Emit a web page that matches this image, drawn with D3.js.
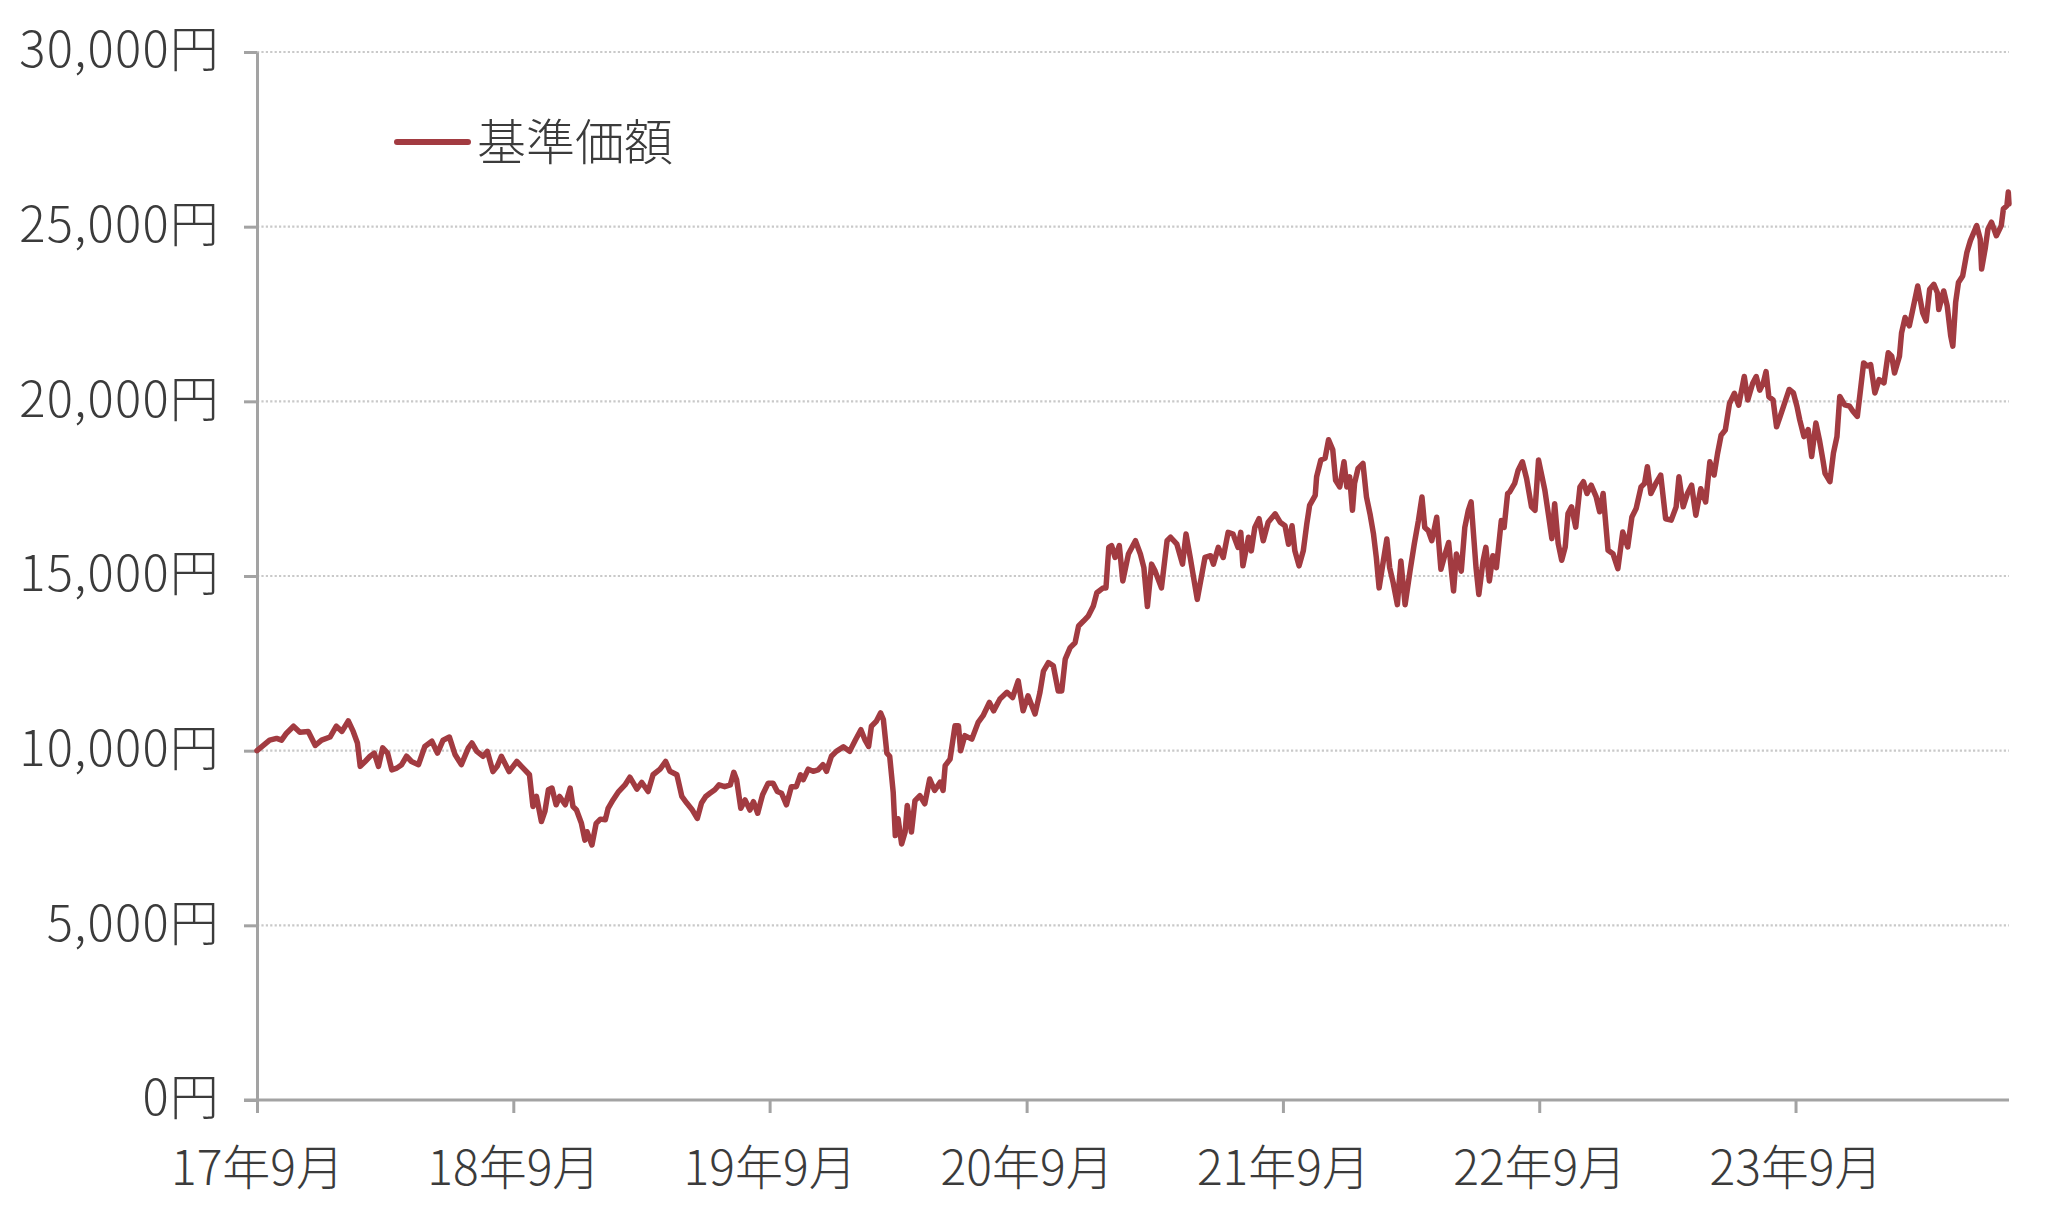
<!DOCTYPE html>
<html><head><meta charset="utf-8">
<script src="https://cdn.jsdelivr.net/npm/d3@7"></script>
<style>html,body{margin:0;padding:0;background:#fff;}svg{display:block}</style>
</head><body>
<svg id="chart" width="2048" height="1220"></svg>
<script>
const seriesName = "基準価額";
const dates = [
"2017-09-29","2017-10-08","2017-10-17","2017-10-27","2017-11-03","2017-11-10","2017-11-20","2017-11-29","2017-12-11","2017-12-21","2017-12-30",
"2018-01-11","2018-01-20","2018-01-28","2018-02-06","2018-02-13","2018-02-19","2018-02-23","2018-03-02","2018-03-09","2018-03-15","2018-03-21","2018-03-27",
"2018-04-03","2018-04-09","2018-04-16","2018-04-23","2018-04-30","2018-05-07","2018-05-17","2018-05-26","2018-06-05","2018-06-13","2018-06-21","2018-06-30",
"2018-07-08","2018-07-17","2018-07-27","2018-08-01","2018-08-08","2018-08-17","2018-08-23","2018-08-31","2018-09-06","2018-09-12","2018-09-23",
"2018-10-04","2018-10-13","2018-10-22","2018-10-27","2018-11-01","2018-11-08","2018-11-13","2018-11-18","2018-11-23","2018-11-29","2018-12-04","2018-12-12","2018-12-19",
"2018-12-23","2018-12-28","2019-01-04","2019-01-09","2019-01-12","2019-01-19","2019-01-25","2019-01-31","2019-02-07","2019-02-11","2019-02-18","2019-02-26",
"2019-03-07","2019-03-14","2019-03-24","2019-03-31","2019-04-09","2019-04-16","2019-04-26","2019-05-04","2019-05-10","2019-05-20","2019-05-27",
"2019-06-03","2019-06-11","2019-06-18","2019-06-24","2019-06-30","2019-07-06","2019-07-13","2019-07-19","2019-07-27","2019-08-04","2019-08-09","2019-08-13","2019-08-19","2019-08-25",
"2019-09-01","2019-09-06","2019-09-12","2019-09-19","2019-09-27","2019-10-04","2019-10-10","2019-10-16","2019-10-23","2019-10-30","2019-11-06","2019-11-12","2019-11-16","2019-11-23","2019-11-30",
"2019-12-07","2019-12-14","2019-12-19","2019-12-26","2020-01-02","2020-01-12","2020-01-21","2020-01-29","2020-02-06","2020-02-12","2020-02-17","2020-02-21","2020-02-28",
"2020-03-05","2020-03-09","2020-03-14","2020-03-18","2020-03-23","2020-03-26","2020-03-30","2020-04-04","2020-04-09","2020-04-12","2020-04-18","2020-04-23","2020-04-30",
"2020-05-07","2020-05-14","2020-05-21","2020-05-29","2020-06-02","2020-06-05","2020-06-12","2020-06-19","2020-06-24","2020-06-27","2020-07-03","2020-07-13","2020-07-22","2020-07-29",
"2020-08-07","2020-08-13","2020-08-22","2020-09-01","2020-09-09","2020-09-17","2020-09-24","2020-10-01","2020-10-11","2020-10-18","2020-10-23","2020-10-30",
"2020-11-06","2020-11-13","2020-11-18","2020-11-23","2020-11-30","2020-12-07","2020-12-12","2020-12-19","2020-12-26","2021-01-02","2021-01-07","2021-01-16","2021-01-20","2021-01-24","2021-01-28",
"2021-02-02","2021-02-08","2021-02-13","2021-02-21","2021-03-03","2021-03-10","2021-03-15","2021-03-20","2021-03-26","2021-03-31","2021-04-09","2021-04-17","2021-04-22",
"2021-05-01","2021-05-09","2021-05-14","2021-05-20","2021-05-30","2021-06-10","2021-06-18","2021-06-22","2021-06-29","2021-07-06","2021-07-13","2021-07-20","2021-07-27","2021-07-31",
"2021-08-03","2021-08-11","2021-08-15","2021-08-20","2021-08-26","2021-09-01","2021-09-08","2021-09-18","2021-09-25","2021-10-02","2021-10-07","2021-10-12","2021-10-16","2021-10-22","2021-10-28",
"2021-11-02","2021-11-06","2021-11-14","2021-11-16","2021-11-22","2021-11-28","2021-12-03","2021-12-09","2021-12-13","2021-12-19","2021-12-25","2021-12-29",
"2022-01-02","2022-01-06","2022-01-09","2022-01-14","2022-01-21","2022-01-26","2022-01-31","2022-02-05","2022-02-09","2022-02-13","2022-02-19","2022-02-24","2022-02-28",
"2022-03-05","2022-03-11","2022-03-16","2022-03-22","2022-03-29","2022-04-04","2022-04-10","2022-04-15","2022-04-19","2022-04-24","2022-04-29",
"2022-05-06","2022-05-12","2022-05-18","2022-05-23","2022-05-27","2022-05-30","2022-06-03","2022-06-10","2022-06-15","2022-06-20","2022-06-24",
"2022-07-01","2022-07-05","2022-07-11","2022-07-15","2022-07-20","2022-07-25","2022-07-30","2022-08-06","2022-08-10","2022-08-15","2022-08-18","2022-08-25","2022-08-30",
"2022-09-05","2022-09-11","2022-09-18","2022-09-23","2022-09-28","2022-10-01","2022-10-07","2022-10-14","2022-10-17","2022-10-21","2022-10-26","2022-10-31",
"2022-11-05","2022-11-09","2022-11-14","2022-11-20","2022-11-26","2022-12-01","2022-12-06","2022-12-12","2022-12-19","2022-12-24","2022-12-29",
"2023-01-05","2023-01-12","2023-01-19","2023-01-26","2023-02-02","2023-02-08","2023-02-14","2023-02-21","2023-02-26","2023-03-02","2023-03-07","2023-03-14","2023-03-21","2023-03-28",
"2023-04-05","2023-04-12","2023-04-16","2023-04-22","2023-04-28","2023-05-04","2023-05-10","2023-05-17","2023-05-24","2023-05-30",
"2023-06-05","2023-06-10","2023-06-15","2023-06-21","2023-06-27","2023-07-04","2023-07-10","2023-07-18","2023-07-23","2023-07-30",
"2023-08-04","2023-08-09","2023-08-14","2023-08-18","2023-08-22","2023-08-28","2023-09-02","2023-09-07","2023-09-12","2023-09-20","2023-09-26",
"2023-10-01","2023-10-05","2023-10-11","2023-10-17","2023-10-22","2023-10-28","2023-11-02","2023-11-07","2023-11-10","2023-11-17","2023-11-22","2023-11-27",
"2023-12-01","2023-12-08","2023-12-15","2023-12-20","2023-12-26","2023-12-30","2024-01-04","2024-01-09","2024-01-14","2024-01-20","2024-01-26",
"2024-02-02","2024-02-08","2024-02-13","2024-02-17","2024-02-24","2024-02-27","2024-03-03","2024-03-09","2024-03-14","2024-03-21","2024-03-28",
"2024-04-02","2024-04-07","2024-04-13","2024-04-18","2024-04-20","2024-04-27","2024-05-02","2024-05-07","2024-05-10","2024-05-14","2024-05-18","2024-05-24","2024-05-30",
"2024-06-04","2024-06-13","2024-06-18","2024-06-20","2024-06-25","2024-06-29","2024-07-04","2024-07-11","2024-07-18","2024-07-21","2024-07-26","2024-07-28","2024-07-29"
];
const navValues = [
10000,10150,10300,10350,10300,10500,10700,10530,10550,10150,10300,
10390,10700,10550,10850,10550,10220,9550,9690,9840,9930,9550,10080,
9930,9450,9500,9600,9840,9690,9600,10120,10270,9930,10300,10390,
9890,9600,10080,10220,9980,9840,9980,9400,9550,9840,9400,
9690,9500,9310,8400,8690,7970,8260,8880,8930,8450,8690,8450,8930,
8400,8300,7920,7440,7680,7300,7920,8040,8020,8350,8590,8830,
9020,9240,8900,9090,8830,9310,9470,9690,9410,9310,8690,
8500,8300,8060,8500,8690,8780,8880,9020,8970,9020,9380,9170,8350,8590,
8300,8540,8210,8740,9070,9070,8830,8780,8450,8970,8970,9310,9170,9470,9410,
9450,9600,9410,9840,9980,10110,9980,10300,10600,10300,10120,10700,10840,
11080,10890,9930,9840,8810,7570,8050,7330,7670,8430,7670,8570,8710,
8480,9190,8860,9100,8860,9570,9760,10710,10710,10000,10430,10330,10810,11000,
11380,11140,11480,11670,11520,12000,11140,11570,11050,11670,12280,12520,
12430,11710,11710,12620,12950,13090,13570,13710,13860,14140,14520,14660,14660,15820,15870,
15530,15870,14860,15630,16010,15630,15240,14130,15340,15140,14660,16010,16110,
15910,15340,16200,15530,14330,15530,15580,15340,15820,15530,16250,16200,15820,16250,
15290,16110,15720,16390,16640,16010,16540,16780,16540,16440,15910,16440,15720,15290,15720,
16490,17020,17310,17840,18320,18370,18900,18610,17740,17550,18270,17550,
17840,16880,17650,18080,18220,17260,16780,16200,15530,14660,15430,16060,15240,
14810,14180,15430,14180,15140,15910,16590,17260,16390,16300,16010,
16680,15190,15630,15960,15140,14570,15630,15140,16390,16880,17120,
15240,14470,15430,15820,14860,15580,15240,16590,16390,17360,17410,17650,18030,
18270,17790,16980,16880,18320,18030,17460,16500,16070,17070,15930,15450,
15830,16790,16980,16400,17550,17700,17360,17600,17270,16840,17360,
15740,15640,15210,16260,15830,16690,16930,17550,17650,18130,17360,17650,17890,16640,
16600,16980,17840,16980,17360,17600,16740,17500,17120,18270,
17890,18510,19030,19180,19940,20230,19890,20710,20040,20520,
20710,20320,20520,20850,20130,20040,19270,19560,19860,20340,20240,
19860,19470,18990,19190,18420,19380,18900,18320,17940,17700,18520,18990,
20140,19900,19860,19710,19570,20240,21100,21010,21050,20240,20620,
20530,21390,21290,20810,21290,21960,22400,22160,22630,23300,22540,
22300,23210,23350,23110,22630,23160,22730,21870,21580,22830,23400,23590,24260,
24600,25030,24650,23790,24360,24930,25130,24740,25030,25510,25600,25990,25650
];
const yTicks = [0, 5000, 10000, 15000, 20000, 25000, 30000];
const yTickLabels = ["0円", "5,000円", "10,000円", "15,000円", "20,000円", "25,000円", "30,000円"];
const xTickDates = ["2017-09-29", "2018-09-29", "2019-09-29", "2020-09-29", "2021-09-29", "2022-09-29", "2023-09-29"];
const xTickLabels = ["17年9月", "18年9月", "19年9月", "20年9月", "21年9月", "22年9月", "23年9月"];

const parse = d3.timeParse("%Y-%m-%d");
const data = dates.map((d, i) => ({ date: parse(d), value: navValues[i] }));

const W = 2048, H = 1220;
const mLeft = 257, mRight = 2009, mTop = 52, mBottom = 1100;
const FONT = "'Noto Sans CJK JP', 'Liberation Sans', sans-serif";
const TEXT = "#3b3b3b";
const AXIS = "#a3a3a3";
const LINE = "#a23b41";

const svg = d3.select("#chart");
svg.append("rect").attr("width", W).attr("height", H).attr("fill", "#fff");

const x = d3.scaleTime().domain([parse(dates[0]), parse(dates[dates.length - 1])]).range([mLeft, mRight]);
const y = d3.scaleLinear().domain([0, 30000]).range([mBottom, mTop]);

// gridlines
svg.append("g").selectAll("line").data(yTicks.filter(v => v > 0)).join("line")
  .attr("x1", mLeft).attr("x2", mRight)
  .attr("y1", d => y(d)).attr("y2", d => y(d))
  .attr("stroke", "#c9c9c9").attr("stroke-width", 2.2).attr("stroke-dasharray", "2.2,2.2");

// y axis
const yAxis = d3.axisLeft(y).tickValues(yTicks).tickFormat((d, i) => yTickLabels[i])
  .tickSize(13).tickSizeOuter(0).tickPadding(24);
const gy = svg.append("g").attr("transform", `translate(${mLeft},0)`).call(yAxis);
gy.select(".domain").attr("stroke", AXIS).attr("stroke-width", 3);
gy.selectAll(".tick line").attr("stroke", AXIS).attr("stroke-width", 3);
gy.selectAll(".tick text").attr("fill", TEXT).attr("font-family", FONT).attr("font-weight", 300)
  .attr("font-size", 49).attr("letter-spacing", 1.2).attr("dy", "0.3em");

// x axis
const xAxis = d3.axisBottom(x).tickValues(xTickDates.map(parse)).tickFormat((d, i) => xTickLabels[i])
  .tickSize(13).tickSizeOuter(0).tickPadding(38);
const gx = svg.append("g").attr("transform", `translate(0,${mBottom})`).call(xAxis);
gx.select(".domain").attr("stroke", AXIS).attr("stroke-width", 3).attr("d", `M${mLeft - 13},0H${mRight}`);
gx.selectAll(".tick line").attr("stroke", AXIS).attr("stroke-width", 3);
gx.selectAll(".tick text").attr("fill", TEXT).attr("font-family", FONT).attr("font-weight", 300)
  .attr("font-size", 48);

// line
const line = d3.line().x(d => x(d.date)).y(d => y(d.value));
svg.append("path").datum(data).attr("d", line)
  .attr("fill", "none").attr("stroke", LINE).attr("stroke-width", 5.5)
  .attr("stroke-linejoin", "round").attr("stroke-linecap", "round");

// legend
const lg = svg.append("g");
lg.append("line").attr("x1", 397).attr("x2", 468).attr("y1", 142).attr("y2", 142)
  .attr("stroke", LINE).attr("stroke-width", 6).attr("stroke-linecap", "round");
lg.append("text").attr("x", 477).attr("y", 142).attr("dy", "0.36em")
  .attr("fill", TEXT).attr("font-family", FONT).attr("font-weight", 300).attr("font-size", 49)
  .text(seriesName);
</script>
</body></html>
